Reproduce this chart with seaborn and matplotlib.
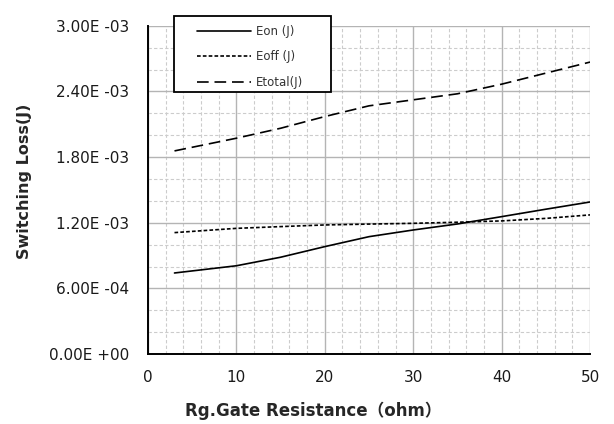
import numpy as np
import pandas as pd
import matplotlib
matplotlib.use("Agg")
import matplotlib.pyplot as plt
import seaborn as sns
from matplotlib.ticker import MultipleLocator, FuncFormatter
from matplotlib.patches import Rectangle

# ---- data ----
rg = [3, 10, 15, 20, 25, 30, 35, 40, 45, 50]
eon = [0.741e-3, 0.807e-3, 0.885e-3, 0.982e-3, 1.073e-3, 1.134e-3, 1.189e-3, 1.256e-3, 1.324e-3, 1.390e-3]
eoff = [1.110e-3, 1.149e-3, 1.165e-3, 1.180e-3, 1.188e-3, 1.195e-3, 1.205e-3, 1.217e-3, 1.240e-3, 1.272e-3]
etotal = [1.857e-3, 1.973e-3, 2.064e-3, 2.171e-3, 2.269e-3, 2.324e-3, 2.379e-3, 2.467e-3, 2.568e-3, 2.669e-3]
series_names = ["Eon (J)", "Eoff (J)", "Etotal(J)"]

frames = []
for name, vals in zip(series_names, [eon, eoff, etotal]):
    frames.append(pd.DataFrame({"Rg": rg, "Loss": vals, "Series": name}))
df = pd.concat(frames, ignore_index=True)

sns.set_style("white")
plt.rcParams['font.family'] = ['DejaVu Sans', 'Noto Sans CJK SC']

fig = plt.figure(figsize=(6.14, 4.24), dpi=100)
ax = fig.add_axes([0.241, 0.165, 0.720, 0.774])

dashes = {"Eon (J)": "", "Eoff (J)": (2.2, 1.3), "Etotal(J)": (7, 3.5)}
sns.lineplot(data=df, x="Rg", y="Loss", hue="Series", style="Series",
             palette=["black"] * 3, dashes=dashes, linewidth=1.2, ax=ax,
             legend=True)

ax.set_xlim(0, 50)
ax.set_ylim(0, 3e-3)
ax.xaxis.set_major_locator(MultipleLocator(10))
ax.xaxis.set_minor_locator(MultipleLocator(2))
ax.yaxis.set_major_locator(MultipleLocator(6e-4))
ax.yaxis.set_minor_locator(MultipleLocator(2e-4))
ax.yaxis.set_major_formatter(FuncFormatter(lambda v, p: f"{v:.2E}".replace("E", "E ")))

ax.grid(True, which="major", color="#b4b4b4", linestyle="-", linewidth=1.0)
ax.grid(True, which="minor", color="#cccccc", linestyle=(0, (3, 2)), linewidth=0.8)
ax.set_axisbelow(True)

for s in ["top", "right"]:
    ax.spines[s].set_visible(False)
for s in ["left", "bottom"]:
    ax.spines[s].set_color("black")
    ax.spines[s].set_linewidth(1.4)

ax.tick_params(axis="both", which="major", direction="inout", length=9, width=1.2,
               labelsize=11, colors="black", labelcolor="#1a1a1a")
ax.tick_params(axis="x", which="major", pad=7)
ax.tick_params(axis="y", which="major", pad=9)
ax.tick_params(axis="both", which="minor", length=0)

ax.set_xlabel("Rg.Gate Resistance（ohm）", fontsize=12, fontweight="bold",
              family=['DejaVu Sans', 'Noto Sans CJK SC'])
ax.xaxis.set_label_coords(0.373, -0.145)
ax.set_ylabel("Switching Loss(J)", fontsize=11.5, fontweight="bold")
ax.yaxis.set_label_coords(-0.262, 0.527)

# legend box
ax.add_patch(Rectangle((0.0588, 0.799), 0.355, 0.232, transform=ax.transAxes,
                       facecolor="white", edgecolor="black", linewidth=1.3,
                       clip_on=False, zorder=4))

handles, labels = ax.get_legend_handles_labels()
leg = ax.legend(handles, labels, loc="upper left",
                bbox_to_anchor=(0.11, 1.003),
                fontsize=8.5, handlelength=4.6, handletextpad=0.45,
                labelspacing=1.05, borderpad=0.0, borderaxespad=0.0,
                frameon=False)
for t in leg.get_texts():
    t.set_color("#333333")
leg.set_zorder(5)

fig.savefig("out.png", dpi=100)
